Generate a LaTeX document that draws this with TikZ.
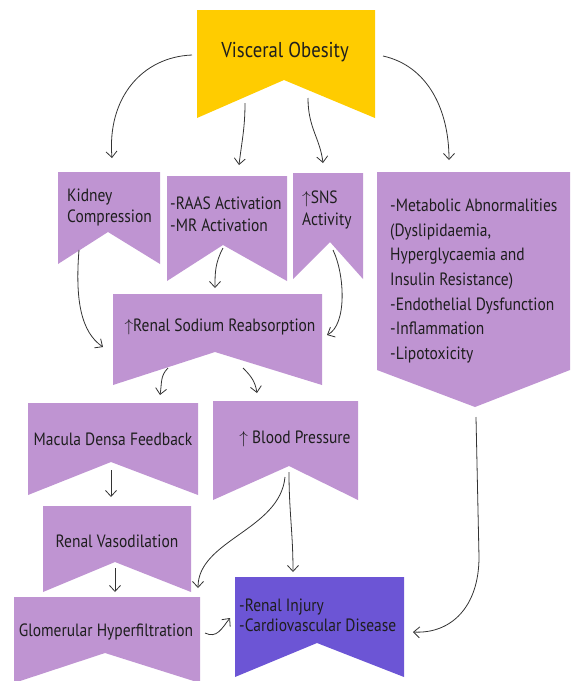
\documentclass[tikz,border=0pt]{standalone}
\usepackage{fontspec}
\setmainfont[FakeStretch=0.87]{PT Sans}
\usepackage{tikz}
\usetikzlibrary{arrows.meta,calc}
\definecolor{voyel}{HTML}{FFCC00}
\definecolor{lilac}{HTML}{BF94D2}
\definecolor{injury}{HTML}{6C55D5}
\definecolor{inkline}{HTML}{333333}
\definecolor{inktext}{HTML}{1E1E1E}

\begin{document}
\begin{tikzpicture}[
  x=1pt, y=-1pt,
  shapebox/.style={inner sep=0pt, outer sep=0pt},
  txt/.style={font=\fontsize{17.8}{21}\selectfont, align=left, inner sep=0pt, text=inktext},
  ctxt/.style={txt, align=center},
  arr/.style={-{Straight Barb[length=6pt,width=11pt]}, inkline, line width=0.8pt},
]
  \useasboundingbox (0,0) rectangle (571,681);

  % Top
  \node[shapebox, minimum width=178, minimum height=108] (vo) at (286,64) {};
  \fill[voyel] (vo.north west) -- (vo.north east) -- (vo.south east)
    -- ($(vo.south)+(-2,-38)$) -- (vo.south west) -- cycle;
  \node[ctxt, font=\fontsize{21.5}{25}\selectfont] (votxt) at (285,52) {Visceral Obesity};

  % Second row
  \node[shapebox, minimum width=102, minimum height=92] (kid) at (109,218) {};
  \fill[lilac] (kid.north west) -- (kid.north east) -- (kid.south east)
    -- ($(kid.south)+(-1,-32)$) -- (kid.south west) -- cycle;
  \node[txt, anchor=west] (kidtxt) at (67,207.5) {Kidney\\Compression};

  \node[shapebox, minimum width=120, minimum height=105] (raas) at (227,228.5) {};
  \fill[lilac] (raas.north west) -- (raas.north east) -- (raas.south east)
    -- ($(raas.south)+(-4,-36)$) -- (raas.south west) -- cycle;
  \node[txt, anchor=west, font=\fontsize{17.8}{22}\selectfont] (raastxt) at (170,214) {-RAAS Activation\\-MR Activation};

  \node[shapebox, minimum width=70, minimum height=106] (sns) at (328,226) {};
  \fill[lilac] (sns.north west) -- (sns.north east) -- (sns.south east)
    -- ($(sns.south)+(2,-37)$) -- (sns.south west) -- cycle;
  \node[txt, anchor=west, font=\fontsize{17.8}{22}\selectfont] (snstxt) at (302,210) {$\uparrow$SNS\\Activity};

  \node[shapebox, minimum width=193, minimum height=198] (met) at (473.5,271) {};
  \fill[lilac] (met.north west) -- (met.north east) -- (met.south east)
    -- ($(met.south)+(1.5,37)$) -- (met.south west) -- cycle;
  \node[txt, anchor=west, font=\fontsize{17.8}{24.7}\selectfont] (mettxt) at (390,281)
    {-Metabolic Abnormalities\\(Dyslipidaemia,\\Hyperglycaemia and\\Insulin Resistance)\\-Endothelial Dysfunction\\-Inflammation\\-Lipotoxicity};

  % Middle
  \node[shapebox, minimum width=209, minimum height=91] (sod) at (217.5,339.5) {};
  \fill[lilac] (sod.north west) -- (sod.north east) -- (sod.south east)
    -- ($(sod.south)+(-2.5,-33)$) -- (sod.south west) -- cycle;
  \node[ctxt] (sodtxt) at (220,327) {$\uparrow$Renal Sodium Reabsorption};

  \node[shapebox, minimum width=170, minimum height=92] (mac) at (113,449) {};
  \fill[lilac] (mac.north west) -- (mac.north east) -- (mac.south east)
    -- ($(mac.south)+(-2,-33)$) -- (mac.south west) -- cycle;
  \node[ctxt] (mactxt) at (113,439) {Macula Densa Feedback};

  \node[shapebox, minimum width=145, minimum height=99] (bp) at (285.5,450.5) {};
  \fill[lilac] (bp.north west) -- (bp.north east) -- (bp.south east)
    -- ($(bp.south)+(3.5,-34)$) -- (bp.south west) -- cycle;
  \node[ctxt] (bptxt) at (295,439) {$\uparrow$ Blood Pressure};

  % Bottom
  \node[shapebox, minimum width=148, minimum height=86] (vas) at (117,549) {};
  \fill[lilac] (vas.north west) -- (vas.north east) -- (vas.south east)
    -- ($(vas.south)+(-2,-30)$) -- (vas.south west) -- cycle;
  \node[ctxt] (vastxt) at (117,541) {Renal Vasodilation};

  \node[shapebox, minimum width=186, minimum height=86] (glo) at (107,640) {};
  \fill[lilac] (glo.north west) -- (glo.north east) -- (glo.south east)
    -- ($(glo.south)+(-2,-30)$) -- (glo.south west) -- cycle;
  \node[ctxt] (glotxt) at (106,632) {Glomerular Hyperfiltration};

  \node[shapebox, minimum width=169, minimum height=100] (ri) at (319.5,627) {};
  \fill[injury] (ri.north west) -- (ri.north east) -- (ri.south east)
    -- ($(ri.south)+(-2.5,-34)$) -- (ri.south west) -- cycle;
  \node[txt, anchor=west, font=\fontsize{17.8}{20}\selectfont] (ritxt) at (239,615) {-Renal Injury\\-Cardiovascular Disease};

  % Connectors
  \draw[arr] ($(vo.west)+(-5,-9)$) .. controls +(-50,2) and +(-5,-60) .. ($(kid.north)+(3,-14)$);
  \draw[arr] ($(vo.south)+(-41,-15)$) .. controls +(0,25) and +(3,-25) .. ($(raas.north)+(12,-11)$);
  \draw[arr] ($(vo.south)+(22,-20)$) .. controls +(0,30) and +(-3,-25) .. ($(sns.north)+(-5,-10)$);
  \draw[arr] ($(vo.east)+(8,-8)$) .. controls +(45,10) and +(0,-50) .. ($(met.north)+(-24.5,-12)$);

  \draw[arr] ($(kid.south)+(-30,-14)$) .. controls +(-4,50) and +(-22,-15) .. ($(sod.west)+(-10,7.5)$);
  \draw[arr] ($(raas.south)+(-4,-33)$) .. controls +(-8,15) and +(0,-15) .. ($(sod.north)+(-2.5,-6)$);
  \draw[arr] ($(sns.south)+(5,-29)$) .. controls +(12,25) and +(20,-10) .. ($(sod.east)+(5,-4.5)$);

  \draw[arr] ($(sod.south)+(-49.5,-17)$) .. controls +(-8,8) and +(2,-12) .. ($(mac.north)+(47,-8)$);
  \draw[arr] ($(sod.south)+(25.5,-17)$) .. controls +(8,8) and +(-2,-12) .. ($(bp.north)+(-28.5,-8)$);

  \draw[arr] ($(mac.south)+(-2,-25)$) -- ($(vas.north)+(-6,-9)$);
  \draw[arr] ($(vas.south)+(-2,-24)$) -- ($(glo.north)+(8,-5)$);

  \draw[arr] ($(bp.south)+(-0.5,-23)$) .. controls +(-5,53) and +(0,-48) .. ($(glo.north east)+(-2,-9)$);
  \draw[arr] ($(bp.south)+(3.5,-28)$) .. controls +(0,40) and +(0,-40) .. ($(ri.north)+(-26.5,-5)$);
  \draw[arr] ($(glo.east)+(5,-7)$) .. controls +(12,6) and +(-8,10) .. ($(ri.west)+(-5,-9)$);
  \draw[arr] ($(met.south)+(2.5,47)$) -- ++(3,140) .. controls +(0,50) and +(38,2) .. ($(ri.east)+(9,5)$);
\end{tikzpicture}
\end{document}
